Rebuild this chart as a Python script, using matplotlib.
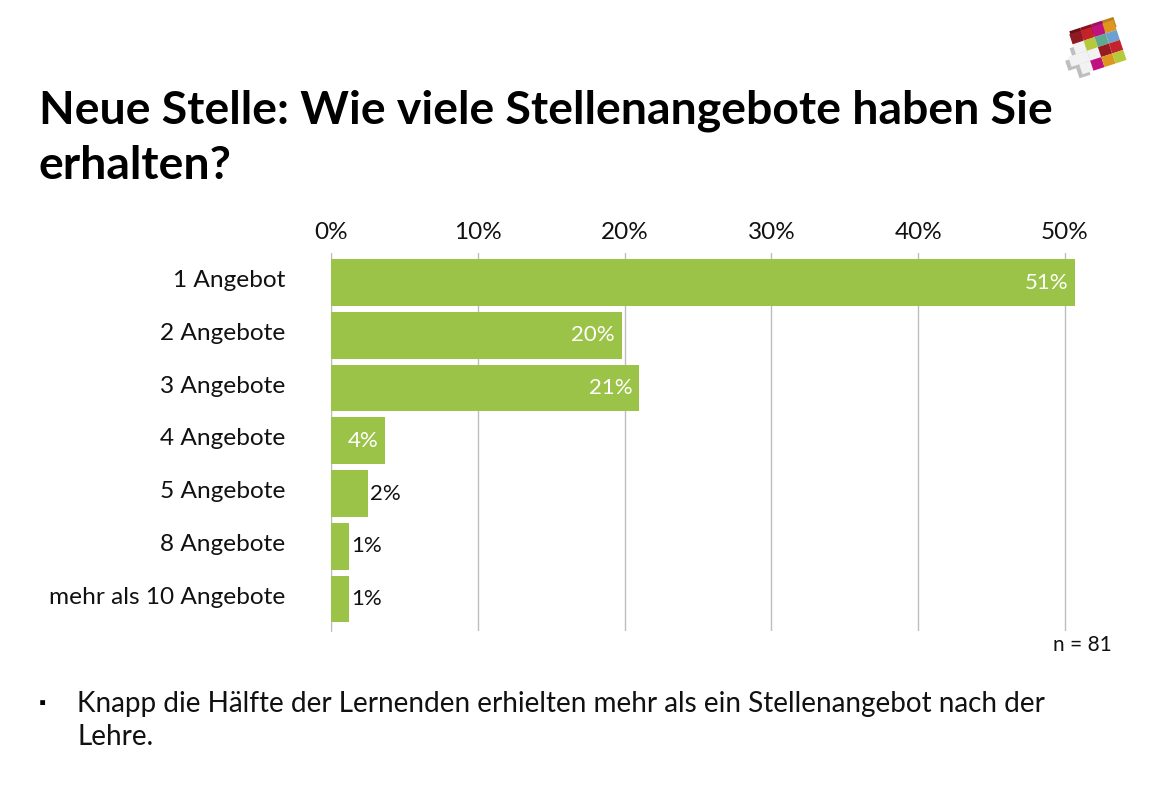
import matplotlib
matplotlib.use("Agg")
import matplotlib.pyplot as plt
from matplotlib.patches import Polygon
from matplotlib.transforms import ScaledTranslation

plt.rcParams["font.family"] = ["Lato", "DejaVu Sans"]

labels = ["1 Angebot", "2 Angebote", "3 Angebote", "4 Angebote", "5 Angebote", "8 Angebote", "mehr als 10 Angebote"]
values = [50.7, 19.8, 21.0, 3.7, 2.5, 1.25, 1.25]
value_labels = ["51%", "20%", "21%", "4%", "2%", "1%", "1%"]
ticks = [0, 10, 20, 30, 40, 50]
tick_labels = ["0%", "10%", "20%", "30%", "40%", "50%"]

W, H = 1170, 788
fig = plt.figure(figsize=(W / 100, H / 100), dpi=100)

# plot area in pixels: x 331..1065 for 0..50, y 253..631
x0, x50 = 331, 1065
xmax = 50.8
right = x0 + (x50 - x0) / 50 * xmax
ax = fig.add_axes([x0 / W, 1 - 631 / H, (right - x0) / W, (631 - 253) / H])
ax.barh(range(len(values)), values, height=0.885, color="#9BC348", zorder=3)
ax.set_ylim(6.606, -0.56)
ax.set_xlim(0, xmax)
for s in ["top", "right", "bottom"]:
    ax.spines[s].set_visible(False)
ax.spines["left"].set_color("#BDBDBD")
ax.xaxis.tick_top()
ax.set_xticks(ticks, tick_labels, fontsize=17.5, color="#111111")
ax.set_yticks(range(len(labels)), labels, fontsize=17.6, color="#111111")
ax.tick_params(axis="both", length=0)
ax.tick_params(axis="x", pad=7)
ax.tick_params(axis="y", pad=33)
ax.grid(axis="x", color="#BDBDBD", lw=1, zorder=0)
# category labels sit a little above the bar centres
for lab in ax.get_yticklabels():
    lab.set_transform(lab.get_transform() + ScaledTranslation(0, 4 / 100, fig.dpi_scale_trans))

for i, (v, t) in enumerate(zip(values, value_labels)):
    if v > 3:
        ax.text(v - 0.45, i, t, color="white", fontsize=16, ha="right", va="center", zorder=4)
    else:
        ax.text(v + 0.15, i, t, color="#111111", fontsize=16, ha="left", va="center", zorder=4)

fig.text(39 / W, 1 - 111 / H, "Neue Stelle: Wie viele Stellenangebote haben Sie", fontsize=33.4, fontweight="bold", color="black", va="center")
fig.text(39 / W, 1 - 166 / H, "erhalten?", fontsize=33.4, fontweight="bold", color="black", va="center")
fig.text(1112 / W, 1 - 645 / H, "n = 81", fontsize=15, color="#111111", ha="right", va="center")
fig.text(39 / W, 1 - 704 / H, "▪", fontsize=13, color="black", va="center")
fig.text(77 / W, 1 - 704 / H, "Knapp die Hälfte der Lernenden erhielten mehr als ein Stellenangebot nach der", fontsize=20.05, color="#111111", va="center")
fig.text(77 / W, 1 - 737 / H, "Lehre.", fontsize=20.05, color="#111111", va="center")

# logo: tilted blocks, white cross with grey shadow
ox, oy = 1069.3, 34.3
dx = (11, -3.6)
dy = (3.3, 10)


def block(row, col, color, shift=(0, 0), zorder=2):
    px = ox + col * dx[0] + row * dy[0] + shift[0]
    py = oy + col * dx[1] + row * dy[1] + shift[1]
    pts = [(px, py), (px + dx[0], py + dx[1]), (px + dx[0] + dy[0], py + dx[1] + dy[1]), (px + dy[0], py + dy[1])]
    fig.add_artist(Polygon([(a / W, 1 - b / H) for a, b in pts], closed=True, transform=fig.transFigure,
                           facecolor=color, edgecolor="none", zorder=zorder))


cross = [(1, 0), (2, 0), (2, 1), (3, 0), (2, -0.7), (1, 1)]
for r, c in cross:
    block(r, c, "#BEBEBE", shift=(-3, 4), zorder=1)
for r, c in cross:
    block(r, c, "#F2F2F2")
for c, color in enumerate(["#6E0F14", "#8C1218", "#9E1060", "#B9801C"]):
    block(0, c, color, shift=(0, -3), zorder=1)
colored = [(0, 0, "#8E1B23"), (0, 1, "#C4232C"), (0, 2, "#C0117F"), (0, 3, "#DD961F"),
           (1, 1, "#B5C93A"), (1, 2, "#5FA98C"), (1, 3, "#6F9FD0"),
           (2, 2, "#971B22"), (2, 3, "#C4232C"),
           (3, 1, "#C0117F"), (3, 2, "#DD961F"), (3, 3, "#B5C93A")]
for r, c, color in colored:
    block(r, c, color, zorder=3)

fig.savefig("out.png", dpi=100, facecolor="white")
